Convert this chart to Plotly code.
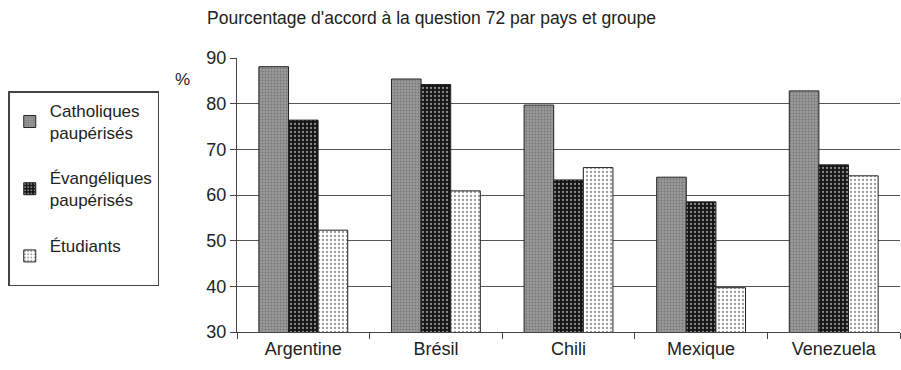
import plotly.graph_objects as go

categories = ["Argentine", "Brésil", "Chili", "Mexique", "Venezuela"]
series_names = ["Catholiques<br>paupérisés", "Évangéliques<br>paupérisés", "Étudiants<br> "]
catholiques = [88.1, 85.4, 79.7, 63.9, 82.8]
evangeliques = [76.4, 84.2, 63.3, 58.5, 66.6]
etudiants = [52.3, 60.9, 66.0, 39.7, 64.2]
y_ticks = [30, 40, 50, 60, 70, 80, 90]

FONT = "Liberation Sans, Arial, sans-serif"

styles = [
    dict(bgcolor="#9a9a9a", fgcolor="#757575", size=3, solidity=0.3),
    dict(bgcolor="#151515", fgcolor="#8c8c8c", size=4, solidity=0.25),
    dict(bgcolor="#ffffff", fgcolor="#9a9a9a", size=4, solidity=0.25),
]

fig = go.Figure()
for i, (name, vals) in enumerate(zip(series_names, [catholiques, evangeliques, etudiants])):
    st = styles[i]
    fig.add_trace(go.Bar(
        x=categories, y=vals, name=name, legendgroup=f"g{i}",
        marker=dict(
            color=st["bgcolor"],
            line=dict(color="#222222", width=1),
            pattern=dict(shape=".", fgcolor=st["fgcolor"], bgcolor=st["bgcolor"],
                         size=st["size"], solidity=st["solidity"], fillmode="replace"),
        ),
    ))

fig.update_layout(
    width=901, height=370,
    margin=dict(l=237, r=1, t=58, b=38),
    paper_bgcolor="white", plot_bgcolor="white",
    font=dict(family=FONT, size=17, color="#222222"),
    barmode="group", bargap=0.33, bargroupgap=0,
    showlegend=True,
    legend=dict(
        x=-0.345, xanchor="left", y=0.878, yanchor="top",
        bordercolor="#444444", borderwidth=1.5,
        font=dict(family=FONT, size=17, color="#222222"),
        itemwidth=30, tracegroupgap=20, traceorder="grouped",
    ),
    annotations=[
        dict(text="Pourcentage d'accord à la question 72 par pays et groupe",
             x=(431 - 237) / 663, xref="paper", y=1 + (58 - 18) / 274, yref="paper",
             showarrow=False, xanchor="center", yanchor="middle",
             font=dict(family=FONT, size=17.5, color="#222222")),
        dict(text="%", x=-0.082, xref="paper", y=0.92, yref="paper", showarrow=False,
             xanchor="center", yanchor="middle",
             font=dict(family=FONT, size=17, color="#222222")),
    ],
)

fig.update_yaxes(
    range=[30, 90], tickvals=y_ticks, showgrid=True, gridcolor="#555555", gridwidth=1.2,
    showline=True, linecolor="#444444", linewidth=1.2,
    ticks="outside", ticklen=6, tickcolor="#444444",
    tickfont=dict(family=FONT, size=18, color="#222222"), zeroline=False,
)
fig.update_xaxes(
    showline=True, linecolor="#444444", linewidth=1.2,
    ticks="outside", ticklen=6, tickcolor="#444444", tickson="boundaries",
    tickfont=dict(family=FONT, size=18, color="#222222"),
)

fig.write_html("out.html")
